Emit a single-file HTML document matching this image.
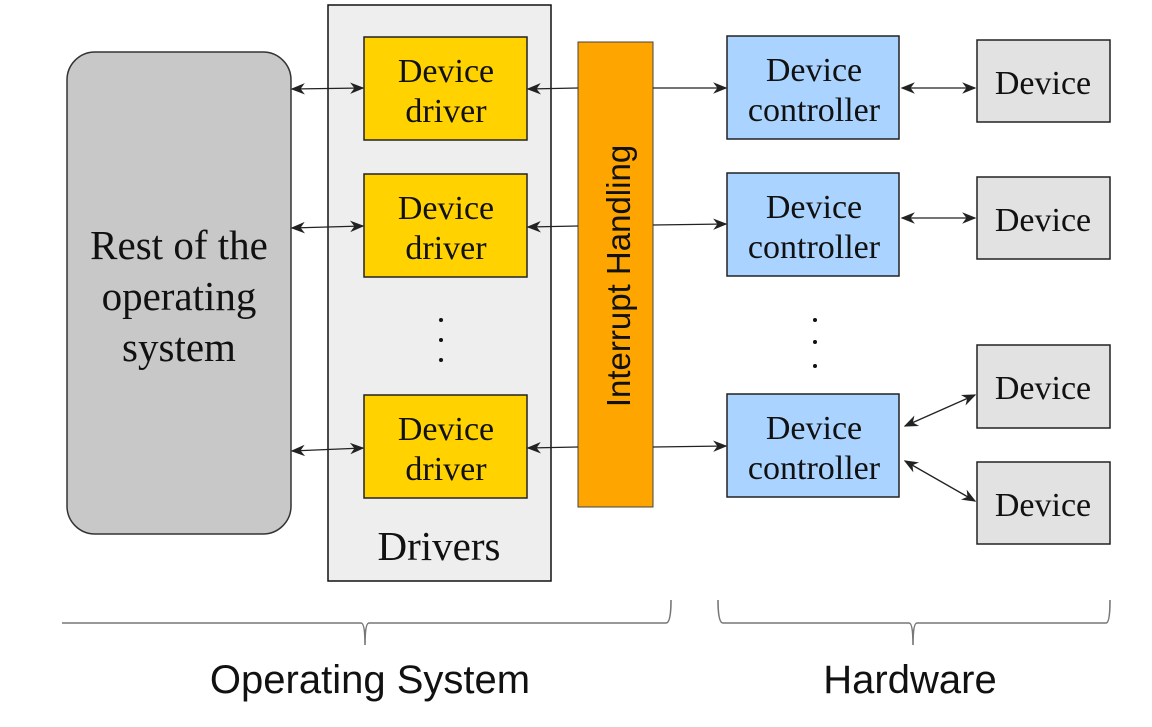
<!DOCTYPE html>
<html><head><meta charset="utf-8"><style>html,body{margin:0;padding:0;background:#fff}</style></head>
<body>
<svg width="1152" height="722" viewBox="0 0 1152 722" xmlns="http://www.w3.org/2000/svg">
<defs>
<marker id="a" viewBox="0 0 10 10" refX="9" refY="5" markerWidth="11" markerHeight="11" orient="auto-start-reverse"><path d="M0,1 L10,5 L0,9 L3,5 z" fill="#222"/></marker>
</defs>
<rect x="0" y="0" width="1152" height="722" fill="#fff"/>
<rect x="67" y="52" width="224" height="482" rx="28" fill="#c8c8c8" stroke="#333" stroke-width="1.5"/>
<g font-family="Liberation Serif, serif" font-size="41" fill="#111" text-anchor="middle">
<text x="179" y="259">Rest of the</text><text x="179" y="310">operating</text><text x="179" y="361">system</text>
</g>
<rect x="328" y="5" width="223" height="576" fill="#eeeeee" stroke="#111" stroke-width="1.5"/>
<text x="439" y="560" font-family="Liberation Serif, serif" font-size="41" text-anchor="middle" fill="#111">Drivers</text>
<g fill="#ffd200" stroke="#222" stroke-width="1.5">
<rect x="364" y="37" width="163" height="103"/><rect x="364" y="174" width="163" height="103"/><rect x="364" y="395" width="163" height="103"/>
</g>
<g font-family="Liberation Serif, serif" font-size="34" fill="#111" text-anchor="middle">
<text x="446" y="82">Device</text><text x="446" y="122">driver</text>
<text x="446" y="219">Device</text><text x="446" y="259">driver</text>
<text x="446" y="440">Device</text><text x="446" y="480">driver</text>
</g>
<g fill="#111"><circle cx="441" cy="320" r="2"/><circle cx="441" cy="340" r="2"/><circle cx="441" cy="360" r="2"/>
<circle cx="815" cy="320" r="2"/><circle cx="815" cy="342" r="2"/><circle cx="815" cy="366" r="2"/></g>
<rect x="578" y="42" width="75" height="465" fill="#ffa500" stroke="#444" stroke-width="1"/>
<text transform="translate(630,276) rotate(-90)" font-family="Liberation Sans, sans-serif" font-size="33" text-anchor="middle" fill="#111">Interrupt Handling</text>
<g fill="#aad4ff" stroke="#222" stroke-width="1.5">
<rect x="727" y="36" width="172" height="103"/><rect x="727" y="173" width="172" height="103"/><rect x="727" y="394" width="172" height="103"/>
</g>
<g font-family="Liberation Serif, serif" font-size="34" fill="#111" text-anchor="middle">
<text x="814" y="81">Device</text><text x="814" y="121">controller</text>
<text x="814" y="218">Device</text><text x="814" y="258">controller</text>
<text x="814" y="439">Device</text><text x="814" y="479">controller</text>
</g>
<g fill="#e2e2e2" stroke="#222" stroke-width="1.5">
<rect x="977" y="40" width="133" height="82"/><rect x="977" y="177" width="133" height="82"/><rect x="977" y="345" width="133" height="83"/><rect x="977" y="462" width="133" height="82"/>
</g>
<g font-family="Liberation Serif, serif" font-size="34" fill="#111" text-anchor="middle">
<text x="1043" y="94">Device</text><text x="1043" y="231">Device</text><text x="1043" y="399">Device</text><text x="1043" y="516">Device</text>
</g>
<g stroke="#222" stroke-width="1.3" fill="none">
<line x1="292" y1="89" x2="363" y2="88" marker-start="url(#a)" marker-end="url(#a)"/>
<line x1="292" y1="228" x2="363" y2="226" marker-start="url(#a)" marker-end="url(#a)"/>
<line x1="292" y1="451" x2="363" y2="448" marker-start="url(#a)" marker-end="url(#a)"/>
<line x1="578" y1="88" x2="528" y2="89" marker-end="url(#a)"/>
<line x1="578" y1="226" x2="528" y2="227" marker-end="url(#a)"/>
<line x1="578" y1="447" x2="528" y2="448" marker-end="url(#a)"/>
<line x1="653" y1="88" x2="726" y2="88" marker-end="url(#a)"/>
<line x1="653" y1="225" x2="726" y2="224" marker-end="url(#a)"/>
<line x1="653" y1="447" x2="726" y2="446" marker-end="url(#a)"/>
<line x1="902" y1="88" x2="975" y2="88" marker-start="url(#a)" marker-end="url(#a)"/>
<line x1="902" y1="218" x2="975" y2="218" marker-start="url(#a)" marker-end="url(#a)"/>
<line x1="905" y1="426" x2="975" y2="395" marker-start="url(#a)" marker-end="url(#a)"/>
<line x1="905" y1="461" x2="975" y2="501" marker-start="url(#a)" marker-end="url(#a)"/>
</g>
<g stroke="#777" stroke-width="1.6" fill="none">
<path d="M62,623 L361,623 Q365,623 365,645 Q365,623 369,623 L666,623 Q671,623 671,600"/>
<path d="M718,600 Q718,623 723,623 L909,623 Q913,623 913,645 Q913,623 917,623 L1106,623 Q1110,623 1110,600"/>
</g>
<g font-family="Liberation Sans, sans-serif" font-size="40" fill="#111" text-anchor="middle">
<text x="370" y="693">Operating System</text><text x="910" y="693">Hardware</text>
</g>
</svg>
</body></html>
